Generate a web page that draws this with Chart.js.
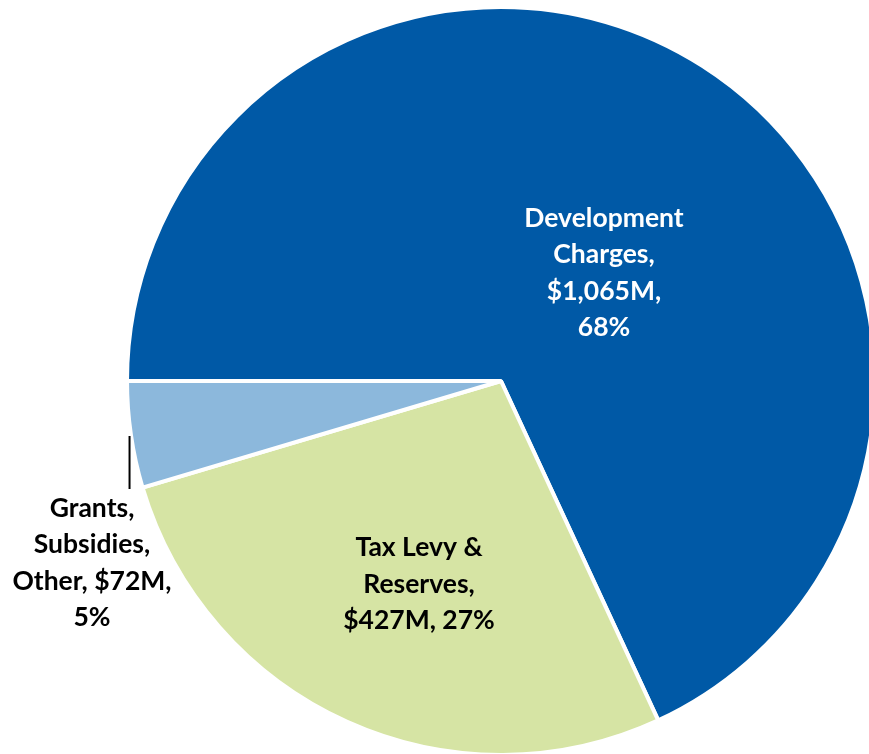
<!DOCTYPE html>
<html>
<head>
<meta charset="utf-8">
<script src="https://cdn.jsdelivr.net/npm/chart.js@4/dist/chart.umd.min.js"></script>
<style>
  html, body { margin: 0; padding: 0; background: #fff; }
  #wrap { width: 869px; height: 754px; overflow: hidden; position: relative; }
  #wrap canvas { position: absolute; left: 0; top: 0; }
</style>
</head>
<body>
<div id="wrap">
  <canvas id="pie" width="1002" height="762"></canvas>
</div>
<script>
// Fontes de financiamento (milhões)
const categorias = ['Development Charges', 'Tax Levy & Reserves', 'Grants, Subsidies, Other'];
const valores = [1065, 427, 72];
const percentuais = ['68%', '27%', '5%'];
const cores = ['#0059A6', '#D6E4A4', '#8CB8DC'];

// Texto dos rótulos, linha por linha
const rotulos = [
    ['Development', 'Charges,', '$1,065M,', '68%'],
    ['Tax Levy &', 'Reserves,', '$427M, 27%'],
    ['Grants,', 'Subsidies,', 'Other, $72M,', '5%']
];
// deslocamento do centro do rótulo em relação ao centro da pizza
const offsets = [[103, -108], [-82, 203], [-409, 182]];
const corTexto = ['#ffffff', '#000000', '#000000'];

const fonte = 'bold 26.5px Lato';
const alturaLinha = 36.5;

const labelsPlugin = {
    id: 'rotulos',
    afterDatasetsDraw(chart) {
        const ctx = chart.ctx;
        const meta = chart.getDatasetMeta(0);
        ctx.save();
        ctx.font = fonte;
        ctx.textAlign = 'center';
        ctx.textBaseline = 'middle';
        meta.data.forEach((arc, i) => {
            const cx = arc.x + offsets[i][0];
            const cy = arc.y + offsets[i][1];
            const linhas = rotulos[i];
            const y0 = cy - (linhas.length - 1) * alturaLinha / 2;
            ctx.fillStyle = corTexto[i];
            linhas.forEach((t, k) => ctx.fillText(t, cx, y0 + k * alturaLinha));
        });

        // linha guia do rótulo externo
        const g = meta.data[2];
        const ang = g.endAngle - 0.06;
        const xg = g.x + Math.cos(ang) * g.outerRadius * 0.995;
        ctx.strokeStyle = '#000';
        ctx.lineWidth = 2;
        ctx.beginPath();
        ctx.moveTo(xg, g.y + 55);
        ctx.lineTo(xg, g.y + 108);
        ctx.stroke();
        ctx.restore();
    }
};

new Chart(document.getElementById('pie'), {
    type: 'pie',
    data: {
        labels: categorias,
        datasets: [{
            data: valores,
            backgroundColor: cores,
            borderColor: '#ffffff',
            borderWidth: 4,
            radius: 374
        }]
    },
    options: {
        responsive: false,
        animation: false,
        rotation: -90,
        layout: { padding: 0 },
        plugins: {
            legend: { display: false },
            tooltip: { enabled: false }
        }
    },
    plugins: [labelsPlugin]
});
</script>
</body>
</html>
